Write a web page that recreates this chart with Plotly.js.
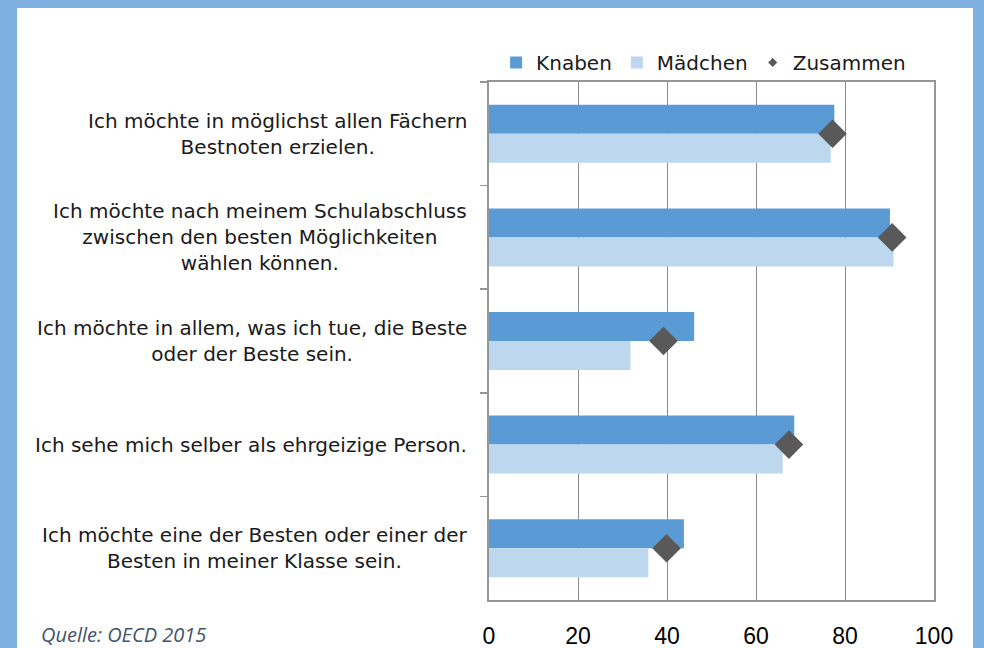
<!DOCTYPE html>
<html>
<head>
<meta charset="utf-8">
<script src="https://cdn.plot.ly/plotly-3.0.1.min.js"></script>
<style>
  html, body { margin: 0; padding: 0; background: #7eb0e0; width: 984px; height: 648px; overflow: hidden; }
  #chart { position: absolute; left: 17px; top: 8px; width: 956px; height: 640px; background: #ffffff; }
</style>
</head>
<body>
<div id="chart"></div>
<script>
// ---- Data ----
const categories = [
  "Ich möchte in möglichst allen Fächern<br>Bestnoten erzielen.",
  "Ich möchte nach meinem Schulabschluss<br>zwischen den besten Möglichkeiten<br>wählen können.",
  "Ich möchte in allem, was ich tue, die Beste<br>oder der Beste sein.",
  "Ich sehe mich selber als ehrgeizige Person.",
  "Ich möchte eine der Besten oder einer der<br>Besten in meiner Klasse sein."
];
const knaben    = [77.6, 90.1, 46.1, 68.6, 43.8];
const maedchen  = [76.8, 90.9, 31.8, 66.0, 35.8];
const zusammen  = [77.2, 90.6, 39.2, 67.4, 39.9];
const seriesNames = ["Knaben", "Mädchen", "Zusammen"];
const xTicks = [0, 20, 40, 60, 80, 100];
const sourceText = "Quelle: OECD 2015";

const labelFont = "DejaVu Sans, Lato, sans-serif";

const traces = [
  { type: "bar", orientation: "h", name: seriesNames[0], y: categories, x: knaben,
    marker: { color: "#5b9bd5" }, hoverinfo: "x" },
  { type: "bar", orientation: "h", name: seriesNames[1], y: categories, x: maedchen,
    marker: { color: "#bdd7ee" }, hoverinfo: "x" },
  { type: "scatter", mode: "markers", name: seriesNames[2], y: categories, x: zusammen,
    marker: { symbol: "diamond", size: 22, color: "#595959" }, showlegend: false, cliponaxis: false },
  { type: "scatter", mode: "markers", name: seriesNames[2], y: [null], x: [null],
    marker: { symbol: "diamond", size: 7, color: "#595959" }, showlegend: true, hoverinfo: "skip" }
];

const annotations = categories.map(c => ({
  xref: "paper", yref: "y", x: 0, y: c, xanchor: "right", yanchor: "middle",
  xshift: -20, text: c, showarrow: false, align: "center",
  font: { family: labelFont, size: 20, color: "#1a1a1a" }
}));
annotations.push({
  xref: "paper", yref: "paper", x: 0, y: 0, xanchor: "left", yanchor: "middle",
  xshift: -450, yshift: -34, text: "<i>" + sourceText + "</i>", showarrow: false,
  font: { family: "Open Sans, sans-serif", size: 20, color: "#44546a" }
});

const layout = {
  width: 956, height: 640,
  margin: { l: 472, r: 39, t: 74, b: 48 },
  paper_bgcolor: "#ffffff", plot_bgcolor: "#ffffff",
  barmode: "group", bargap: 0.44, bargroupgap: 0,
  showlegend: true,
  legend: {
    orientation: "h", x: 0.016, xanchor: "left", y: 1.0, yanchor: "bottom",
    itemgap: 6, traceorder: "normal",
    font: { family: labelFont, size: 20, color: "#1a1a1a" },
    bgcolor: "rgba(0,0,0,0)", itemclick: false
  },
  xaxis: {
    range: [0, 100], tickvals: xTicks, ticktext: xTicks.map(String),
    showgrid: true, gridcolor: "#8c8c8c", gridwidth: 1,
    zeroline: false, showline: true, linecolor: "#969696", linewidth: 2, mirror: true,
    ticks: "outside", ticklen: 14, tickcolor: "rgba(0,0,0,0)",
    tickfont: { family: "Liberation Sans Narrow, Liberation Sans, sans-serif", size: 23, color: "#000000" },
    fixedrange: true
  },
  yaxis: {
    type: "category", categoryorder: "array", categoryarray: categories,
    autorange: "reversed",
    showticklabels: false, showgrid: false, zeroline: false,
    showline: true, linecolor: "#969696", linewidth: 2, mirror: true,
    ticks: "outside", tickson: "boundaries", ticklen: 7, tickcolor: "#969696", tickwidth: 1.5,
    fixedrange: true
  },
  annotations: annotations
};

Plotly.newPlot("chart", traces, layout, { displayModeBar: false, staticPlot: true });
</script>
</body>
</html>
